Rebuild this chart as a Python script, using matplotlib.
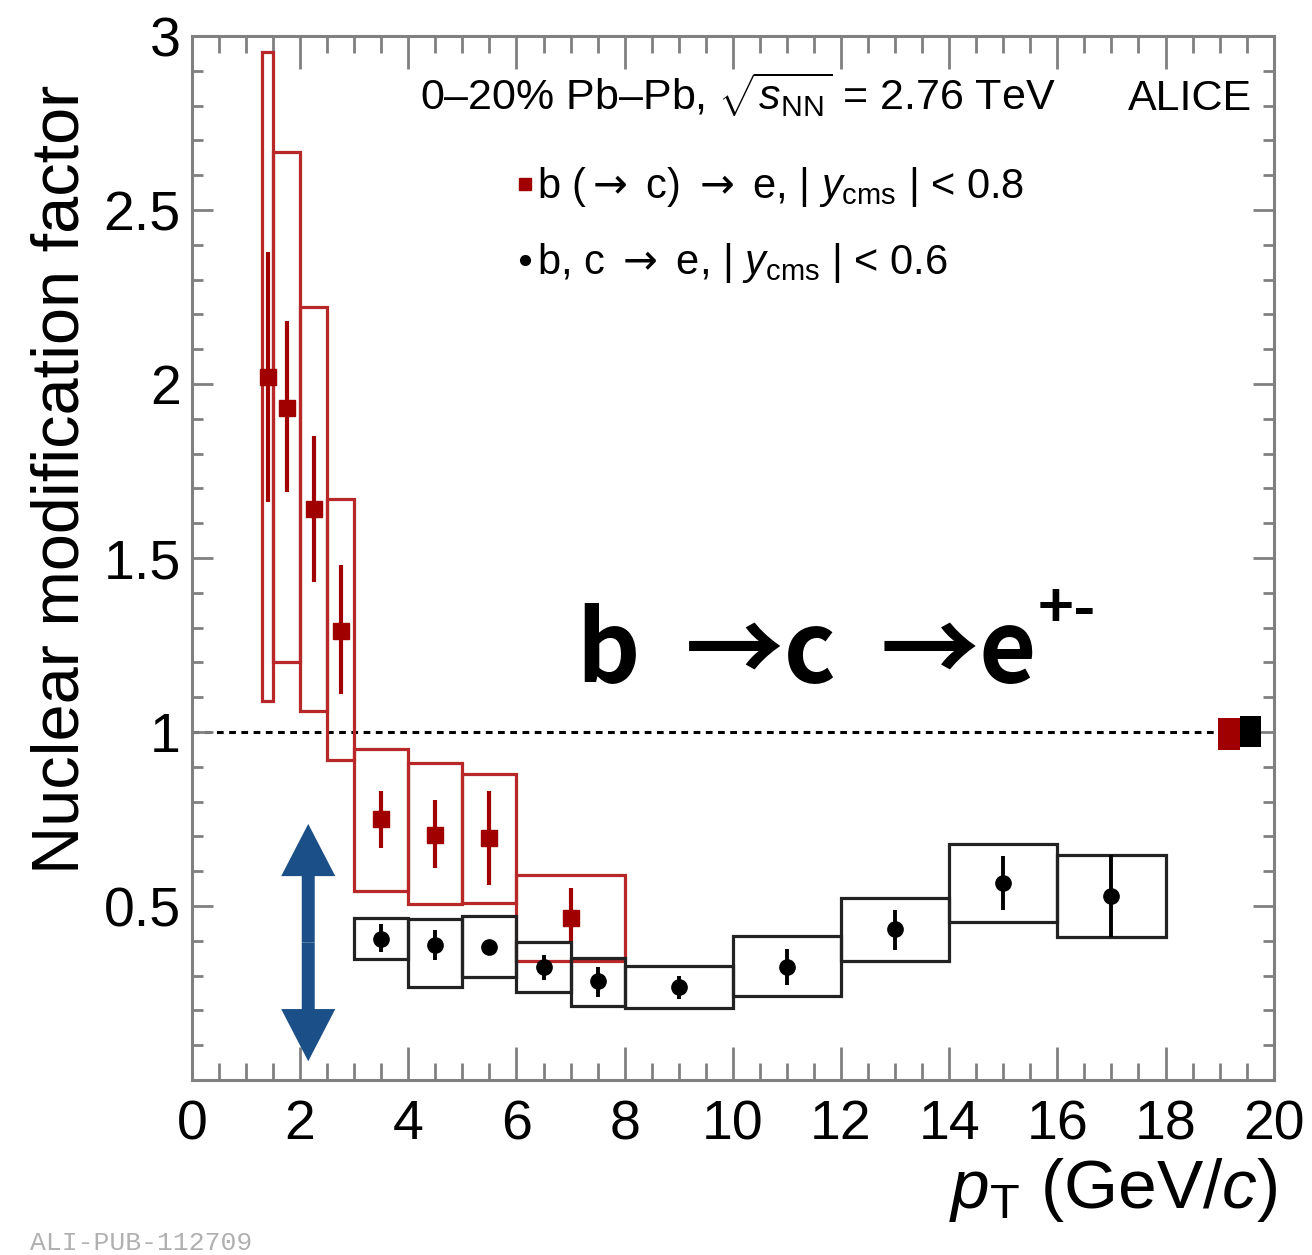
import numpy as np
import matplotlib
matplotlib.use('Agg')
import matplotlib.pyplot as plt
from matplotlib.patches import Rectangle
from matplotlib.lines import Line2D
from matplotlib.ticker import MultipleLocator, FixedLocator, FormatStrFormatter

plt.rcParams['font.family'] = ['Liberation Sans', 'DejaVu Sans']
plt.rcParams['mathtext.fontset'] = 'custom'
plt.rcParams['mathtext.rm'] = 'Liberation Sans'
plt.rcParams['mathtext.it'] = 'Liberation Sans:italic'
plt.rcParams['mathtext.bf'] = 'Liberation Sans:bold'
plt.rcParams['mathtext.sf'] = 'DejaVu Sans'

# b (-> c) -> e
red_xlo = [1.3, 1.5, 2.0, 2.5, 3.0, 4.0, 5.0, 6.0]
red_xhi = [1.5, 2.0, 2.5, 3.0, 4.0, 5.0, 6.0, 8.0]
red_x = [1.4, 1.75, 2.25, 2.75, 3.5, 4.5, 5.5, 7.0]
red_y = [2.02, 1.93, 1.64, 1.29, 0.75, 0.705, 0.695, 0.465]
red_stat_lo = [1.66, 1.69, 1.43, 1.11, 0.667, 0.609, 0.561, 0.40]
red_stat_hi = [2.38, 2.18, 1.85, 1.48, 0.83, 0.804, 0.83, 0.551]
red_sys_lo = [1.09, 1.20, 1.06, 0.92, 0.542, 0.505, 0.51, 0.343]
red_sys_hi = [2.955, 2.667, 2.22, 1.669, 0.952, 0.91, 0.878, 0.588]

# b, c -> e
blk_xlo = [3, 4, 5, 6, 7, 8, 10, 12, 14, 16]
blk_xhi = [4, 5, 6, 7, 8, 10, 12, 14, 16, 18]
blk_x = [3.5, 4.5, 5.5, 6.5, 7.5, 9, 11, 13, 15, 17]
blk_y = [0.405, 0.388, 0.381, 0.326, 0.285, 0.266, 0.326, 0.434, 0.566, 0.53]
blk_stat_lo = [0.367, 0.346, 0.37, 0.288, 0.239, 0.233, 0.273, 0.374, 0.489, 0.412]
blk_stat_hi = [0.447, 0.432, 0.392, 0.36, 0.326, 0.300, 0.378, 0.489, 0.643, 0.648]
blk_sys_lo = [0.347, 0.266, 0.297, 0.254, 0.212, 0.206, 0.241, 0.342, 0.453, 0.412]
blk_sys_hi = [0.467, 0.463, 0.47, 0.398, 0.352, 0.329, 0.414, 0.522, 0.679, 0.648]

# normalisation uncertainties (boxes at unity)
norm_x = [19.17, 19.57]
norm_lo = [0.947, 0.958]
norm_hi = [1.041, 1.046]
norm_col = ['#a00000', 'black']

# blue arrow
arrow_x = 2.15
arrow_lo = 0.054
arrow_hi = 0.736

red = '#a00000'
redbox = '#b82828'
frame = '#808080'

fig = plt.figure(figsize=(13.12, 12.55), dpi=100)
ax = fig.add_axes([0.1463, 0.1394, 0.8245, 0.8319])
ax.set_xlim(0, 20)
ax.set_ylim(0, 3)

# unity line
ax.plot([0, 18.95], [1, 1], color='black', ls=(0, (2.2, 1.8)), lw=2.2, zorder=1)

# systematic boxes
for lo, hi, a, b in zip(red_xlo, red_xhi, red_sys_lo, red_sys_hi):
    ax.add_patch(Rectangle((lo, a), hi - lo, b - a, fill=False, ec=redbox, lw=2.3, zorder=2))
for lo, hi, a, b in zip(blk_xlo, blk_xhi, blk_sys_lo, blk_sys_hi):
    ax.add_patch(Rectangle((lo, a), hi - lo, b - a, fill=False, ec='#222222', lw=2.3, zorder=3))

# statistical errors and points
red_err = [np.array(red_y) - np.array(red_stat_lo), np.array(red_stat_hi) - np.array(red_y)]
ax.errorbar(red_x, red_y, yerr=red_err, fmt='s', color=red, ms=11, elinewidth=3, capsize=0, zorder=4)
blk_err = [np.array(blk_y) - np.array(blk_stat_lo), np.array(blk_stat_hi) - np.array(blk_y)]
ax.errorbar(blk_x, blk_y, yerr=blk_err, fmt='o', color='black', ms=11, elinewidth=2.8, capsize=0, zorder=5)

for xc, a, b, c in zip(norm_x, norm_lo, norm_hi, norm_col):
    ax.add_patch(Rectangle((xc - 0.2, a), 0.4, b - a, fc=c, ec='none', zorder=6))

# double arrow (two halves from the middle)
mid = 0.5 * (arrow_lo + arrow_hi)
for end in (arrow_hi, arrow_lo):
    ax.arrow(arrow_x, mid, 0, end - mid, width=0.24, head_width=1.0, head_length=0.15,
             length_includes_head=True, fc='#1b4f87', ec='none', zorder=7)

# texts
ax.text(4.22, 2.787, r'0–20% Pb–Pb, $\sqrt{s_{\mathrm{NN}}}$ = 2.76 TeV', fontsize=31, va='baseline')
ax.text(19.6, 2.787, 'ALICE', fontsize=31, va='baseline', ha='right')

t = ax.text(7.12, 1.14, 'b  →c  →e', fontsize=71, fontweight='bold', va='baseline',
            family=['Noto Sans CJK SC', 'DejaVu Sans'], zorder=8)
fig.canvas.draw()
bb = t.get_window_extent().transformed(ax.transData.inverted())
ax.text(bb.x1 + 0.02, 1.3, '+-', fontsize=44, fontweight='bold', va='baseline',
        family=['Noto Sans CJK SC', 'DejaVu Sans'], zorder=8)

handles = [Line2D([], [], marker='s', color=red, ls='none', ms=8),
           Line2D([], [], marker='o', color='black', ls='none', ms=7)]
arr = r'$\mathsf{\rightarrow}$'
labels = ['b (' + arr + ' c) ' + arr + r' e, | $y_{\mathrm{cms}}$ | < 0.8',
          'b, c ' + arr + r' e, | $y_{\mathrm{cms}}$ | < 0.6']
ax.legend(handles, labels, loc='upper left', bbox_to_anchor=(0.302, 0.876), frameon=False,
          fontsize=30, handlelength=0.3, handletextpad=0.15, labelspacing=0.76, borderpad=0,
          borderaxespad=0)

# axes styling
for s in ax.spines.values():
    s.set_color(frame)
    s.set_linewidth(2.2)
ax.xaxis.set_major_locator(MultipleLocator(2))
ax.xaxis.set_minor_locator(MultipleLocator(0.5))
ax.yaxis.set_major_locator(FixedLocator([0.5, 1, 1.5, 2, 2.5, 3]))
ax.yaxis.set_minor_locator(MultipleLocator(0.1))
ax.yaxis.set_major_formatter(FormatStrFormatter('%g'))
ax.tick_params(which='both', direction='in', top=True, right=True, color=frame, width=2, labelsize=40)
ax.tick_params(axis='x', which='major', length=24, pad=14)
ax.tick_params(axis='x', which='minor', length=12)
ax.tick_params(axis='y', which='major', length=15, pad=8)
ax.tick_params(axis='y', which='minor', length=8)

ax.set_ylabel('Nuclear modification factor', fontsize=48, loc='top')
ax.yaxis.set_label_coords(-0.092, 0.953)
ax.set_xlabel(r'$p_{\mathrm{T}}$ (GeV/$c$)', fontsize=50, loc='right')
ax.xaxis.set_label_coords(1.003, -0.073)

fig.text(0.023, 0.004, 'ALI-PUB-112709', fontsize=19, color='#b0b0b0', family='Liberation Mono')

fig.savefig('out.png', dpi=100)
